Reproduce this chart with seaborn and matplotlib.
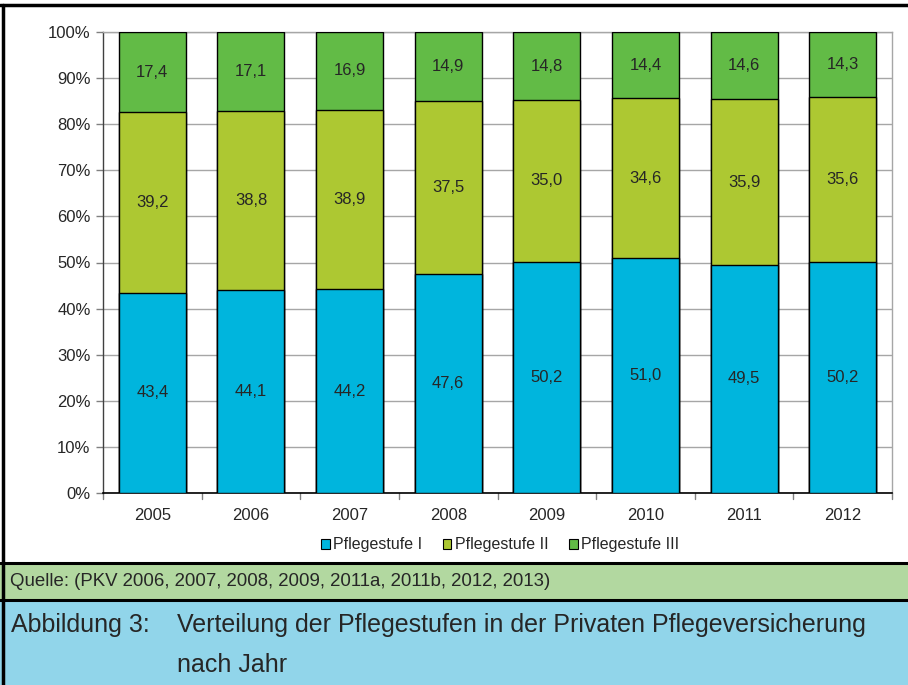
import matplotlib
matplotlib.use("Agg")
import matplotlib.pyplot as plt
import seaborn as sns
import pandas as pd
from matplotlib.patches import Rectangle, Patch
from matplotlib.lines import Line2D

# Daten (Anteile in %)
jahre = ["2005", "2006", "2007", "2008", "2009", "2010", "2011", "2012"]
stufe_1 = [43.4, 44.1, 44.2, 47.6, 50.2, 51.0, 49.5, 50.2]
stufe_2 = [39.2, 38.8, 38.9, 37.5, 35.0, 34.6, 35.9, 35.6]
stufe_3 = [17.4, 17.1, 16.9, 14.9, 14.8, 14.4, 14.6, 14.3]
serien = ["Pflegestufe I", "Pflegestufe II", "Pflegestufe III"]

farben = ["#00B5DD", "#ADC832", "#62BB46"]

df = pd.DataFrame({"Jahr": jahre, "I": stufe_1, "II": stufe_2, "III": stufe_3})
df["cum1"] = df["I"]
df["cum2"] = df["I"] + df["II"]
df["cum3"] = df["cum2"] + df["III"]

sns.set_style("white")
plt.rcParams["font.family"] = ["Liberation Sans", "DejaVu Sans"]

W, H = 908, 685
fig = plt.figure(figsize=(W / 100, H / 100), dpi=100)
ax = fig.add_axes([103 / W, 1 - 493 / H, (892 - 103) / W, (493 - 32) / H])

# gestapelte Balken: höchste zuerst, dann überdecken
for col, farbe in zip(["cum3", "cum2", "cum1"], farben[::-1]):
    sns.barplot(data=df, x="Jahr", y=col, color=farbe, width=0.68,
                edgecolor="black", linewidth=1.0, saturation=1, ax=ax, zorder=3)

ax.set_ylim(0, 100)
ax.set_xlim(-0.5, len(jahre) - 0.5)
ax.set_yticks(range(0, 101, 10))
ax.set_yticklabels([f"{v}%" for v in range(0, 101, 10)], fontsize=12)
ax.tick_params(axis="x", labelsize=12, length=0, pad=11)
ax.tick_params(axis="y", length=5, color="#808080", width=1, pad=4, left=True)
ax.set_xlabel("")
ax.set_ylabel("")
ax.grid(axis="y", color="#A6A6A6", linewidth=1, zorder=0)
ax.set_axisbelow(True)

# Tickmarken zwischen den Kategorien
for i in range(len(jahre) + 1):
    ax.plot([i - 0.5, i - 0.5], [0, -1.2], color="#808080", lw=1, clip_on=False)

for s in ["top", "right"]:
    ax.spines[s].set_color("#A6A6A6")
    ax.spines[s].set_linewidth(1)
ax.spines["left"].set_color("#404040")
ax.spines["bottom"].set_color("black")
ax.spines["left"].set_linewidth(1)
ax.spines["bottom"].set_linewidth(1.2)

# Werte beschriften
for i in range(len(jahre)):
    for unten, wert in [(0, stufe_1[i]), (stufe_1[i], stufe_2[i]),
                        (stufe_1[i] + stufe_2[i], stufe_3[i])]:
        ax.text(i, unten + wert / 2, f"{wert:.1f}".replace(".", ","),
                ha="center", va="center", fontsize=12, zorder=5)

# Legende
handles = [Patch(facecolor=f, edgecolor="black", linewidth=0.8) for f in farben]
fig.legend(handles, serien, loc="center", bbox_to_anchor=(500 / W, 1 - 545 / H),
           ncol=3, frameon=False, fontsize=11.5, handlelength=0.55, handleheight=0.55,
           handletextpad=0.2, columnspacing=1.3)

# Bänder unten
fig.patches.append(Rectangle((0, 1 - 600 / H), 1, 36 / H, transform=fig.transFigure,
                             facecolor="#B2D8A0", edgecolor="none", zorder=0))
fig.patches.append(Rectangle((0, 0), 1, 1 - 601 / H, transform=fig.transFigure,
                             facecolor="#91D5EA", edgecolor="none", zorder=0))
for y in [563, 600]:
    fig.add_artist(Line2D([0, 1], [1 - y / H, 1 - y / H], transform=fig.transFigure,
                          color="black", lw=2.2))
fig.add_artist(Line2D([0, 1], [1 - 5 / H, 1 - 5 / H], transform=fig.transFigure,
                      color="black", lw=2.5))
fig.add_artist(Line2D([3 / W, 3 / W], [0, 1 - 5 / H], transform=fig.transFigure,
                      color="black", lw=2.5))

fig.text(10 / W, 1 - 581 / H, "Quelle: (PKV 2006, 2007, 2008, 2009, 2011a, 2011b, 2012, 2013)",
         fontsize=13.4, va="center", ha="left",
         family=["Liberation Sans Narrow", "Liberation Sans", "DejaVu Sans"])
fig.text(11 / W, 1 - 625 / H, "Abbildung 3:", fontsize=18, va="center", ha="left")
fig.text(177 / W, 1 - 625 / H, "Verteilung der Pflegestufen in der Privaten Pflegeversicherung",
         fontsize=18, va="center", ha="left")
fig.text(177 / W, 1 - 665 / H, "nach Jahr", fontsize=18, va="center", ha="left")

fig.savefig("out.png", dpi=100)
